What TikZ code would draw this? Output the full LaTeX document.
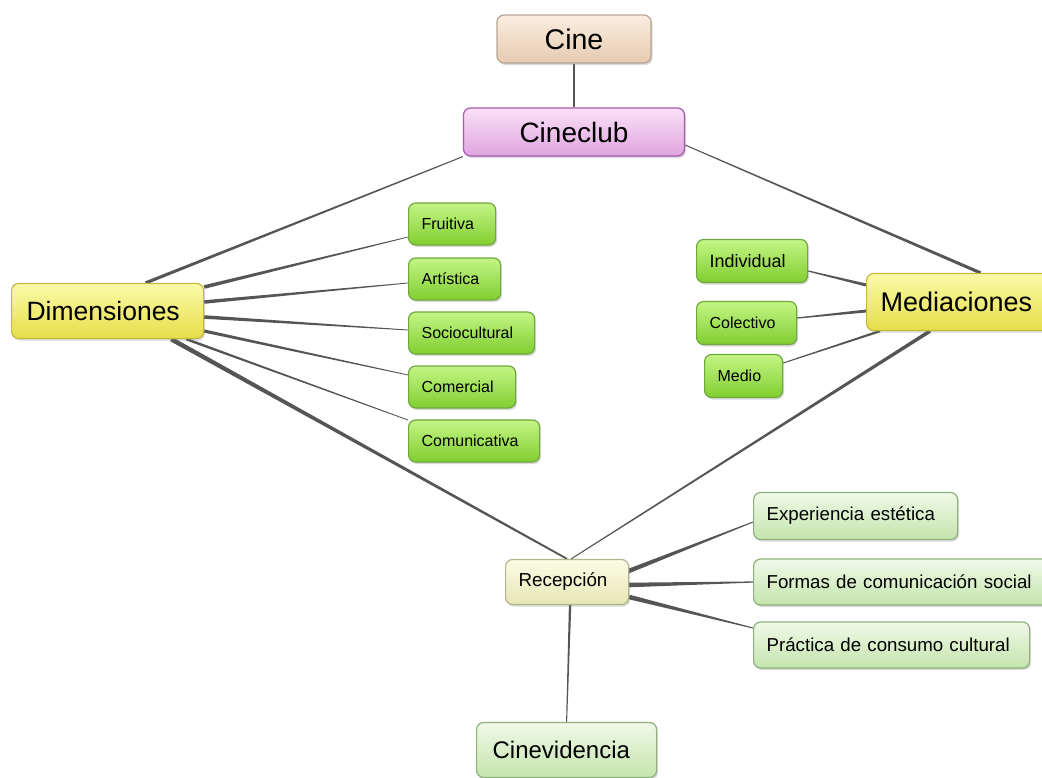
\documentclass[tikz,border=0pt]{standalone}
\usepackage{fontspec}
\setmainfont{Liberation Sans}
\usetikzlibrary{shadows,calc}
\pgfdeclarelayer{bg}
\pgfsetlayers{bg,main}
\definecolor{edgegray}{HTML}{555555}
\definecolor{cineD}{HTML}{B5A595}\definecolor{cineT}{HTML}{FBEDE0}\definecolor{cineB}{HTML}{E5CBB0}
\definecolor{clubD}{HTML}{A958AE}\definecolor{clubT}{HTML}{FAE0F7}\definecolor{clubB}{HTML}{DFA4DF}
\definecolor{yelD}{HTML}{C4BA3C}\definecolor{yelT}{HTML}{FAFAA8}\definecolor{yelB}{HTML}{E6DE48}
\definecolor{grnD}{HTML}{6FA83C}\definecolor{grnT}{HTML}{C4F585}\definecolor{grnB}{HTML}{80CE30}
\definecolor{recD}{HTML}{B4B48C}\definecolor{recT}{HTML}{FCFCE6}\definecolor{recB}{HTML}{E6E6B6}
\definecolor{lgD}{HTML}{8EB07C}\definecolor{lgT}{HTML}{F0F9E8}\definecolor{lgB}{HTML}{C4E4AC}
\tikzset{
  box/.style={rounded corners=7pt, draw, line width=1.2pt, inner ysep=0pt,
    drop shadow={shadow xshift=1.5pt, shadow yshift=-2pt, opacity=0.3}},
  lbox/.style={anchor=west, align=left, inner xsep=13pt},
  cinebox/.style={box, draw=cineD, top color=cineT, bottom color=cineB, inner xsep=0pt},
  clubbox/.style={box, draw=clubD, top color=clubT, bottom color=clubB, inner xsep=0pt},
  yelbox/.style={box, lbox, draw=yelD, top color=yelT, bottom color=yelB},
  grnbox/.style={box, lbox, draw=grnD, top color=grnT, bottom color=grnB, font=\fontsize{16}{18}\selectfont},
  recbox/.style={box, lbox, draw=recD, top color=recT, bottom color=recB, font=\fontsize{18.8}{21}\selectfont},
  lgbox/.style={box, lbox, draw=lgD, top color=lgT, bottom color=lgB, font=\fontsize{18.7}{21}\selectfont}
}
% tapered connector: from #1 (half width #3) to #2 (half width #4)
\newcommand\taperedge[4]{%
  \fill[edgegray] let \p1=#1, \p2=#2, \n1={atan2(\y2-\y1,\x2-\x1)} in
    ($(\p1)+(\n1+90:#3)$) -- ($(\p2)+(\n1+90:#4)$) -- ($(\p2)+(\n1-90:#4)$) -- ($(\p1)+(\n1-90:#3)$) -- cycle;}
\begin{document}
\begin{tikzpicture}[x=1pt,y=-1pt]
\useasboundingbox (0,0) rectangle (1042,777);
% nodes
\node[cinebox, minimum width=154pt, minimum height=48pt, font=\fontsize{28.5}{31}\selectfont] (cine) at (574,39) {Cine};
\node[clubbox, minimum width=221pt, minimum height=48pt, font=\fontsize{28}{31}\selectfont] (club) at (574,132) {Cineclub};
\node[yelbox, inner xsep=15pt, text width=162pt, minimum height=55pt, font=\fontsize{26.5}{29}\selectfont] (dim) at (11,311) {Dimensiones};
\node[yelbox, inner xsep=14pt, text width=162pt, minimum height=57pt, font=\fontsize{27}{30}\selectfont] (med) at (866,302) {Mediaciones};
\node[grnbox, text width=61pt, minimum height=42pt] (fru) at (408,224) {Fruitiva};
\node[grnbox, text width=66pt, minimum height=42pt] (art) at (408,279) {Artística};
\node[grnbox, text width=100pt, minimum height=42pt] (soc) at (408,333) {Sociocultural};
\node[grnbox, text width=81pt, minimum height=42pt] (com) at (408,387) {Comercial};
\node[grnbox, text width=105pt, minimum height=42pt] (comu) at (408,441) {Comunicativa};
\node[grnbox, text width=85pt, minimum height=43pt, font=\fontsize{18}{20}\selectfont] (ind) at (696,261) {Individual};
\node[grnbox, text width=74pt, minimum height=43pt] (col) at (696,323) {Colectivo};
\node[grnbox, text width=52pt, minimum height=43pt] (medio) at (704,376) {Medio};
\node[recbox, text width=97pt, minimum height=45pt] (rec) at (505,582) {Recepción};
\node[lgbox, text width=178pt, minimum height=47pt] (exp) at (753,516) {Experiencia estética};
\node[lgbox, text width=274pt, minimum height=46pt] (for) at (753,582) {Formas de comunicación social};
\node[lgbox, text width=250pt, minimum height=46pt] (pra) at (753,645) {Práctica de consumo cultural};
\node[lgbox, inner xsep=16pt, text width=148pt, minimum height=55pt, font=\fontsize{24}{27}\selectfont] (cinev) at (476,750) {Cinevidencia};
% connectors (behind nodes)
\begin{pgfonlayer}{bg}
\draw[edgegray, line width=1.2pt] (cine.south) -- (club.north);
\taperedge{(club.south west)}{($(dim.north)+(38,0)$)}{0.5pt}{1.6pt}
\taperedge{($(club.east)+(0,13)$)}{($(med.north)+(19,0)$)}{0.5pt}{1.6pt}
\taperedge{($(dim.east)+(0,-24)$)}{($(fru.west)+(0,13)$)}{1.8pt}{0.4pt}
\taperedge{($(dim.east)+(0,-9)$)}{($(art.west)+(0,4)$)}{1.8pt}{0.4pt}
\taperedge{($(dim.east)+(0,6)$)}{($(soc.west)+(0,-3)$)}{1.8pt}{0.4pt}
\taperedge{($(dim.east)+(0,20)$)}{($(com.west)+(0,-12)$)}{1.6pt}{0.4pt}
\taperedge{($(dim.south east)+(-18,0)$)}{($(comu.west)+(0,-21)$)}{1.3pt}{0.4pt}
\taperedge{($(dim.south east)+(-33,0)$)}{(rec.north)}{2.3pt}{0.9pt}
\taperedge{($(ind.east)+(0,10)$)}{($(med.west)+(0,-17)$)}{0.6pt}{1.5pt}
\taperedge{($(col.east)+(0,-5)$)}{($(med.west)+(0,9)$)}{0.6pt}{1.5pt}
\taperedge{($(medio.east)+(0,-13)$)}{($(med.south west)+(14,0)$)}{0.5pt}{1.2pt}
\taperedge{($(med.south west)+(64,0)$)}{($(rec.north)+(4,0)$)}{1.8pt}{0.5pt}
\taperedge{($(rec.east)+(-3,-10)$)}{($(exp.west)+(0,6)$)}{2.3pt}{0.5pt}
\taperedge{($(rec.east)+(0,3)$)}{(for.west)}{2.3pt}{0.6pt}
\taperedge{($(rec.east)+(0,15)$)}{($(pra.west)+(0,-17)$)}{2.3pt}{0.5pt}
\taperedge{($(rec.south)+(3,0)$)}{(cinev.north)}{1.2pt}{0.5pt}
\end{pgfonlayer}
\end{tikzpicture}
\end{document}
